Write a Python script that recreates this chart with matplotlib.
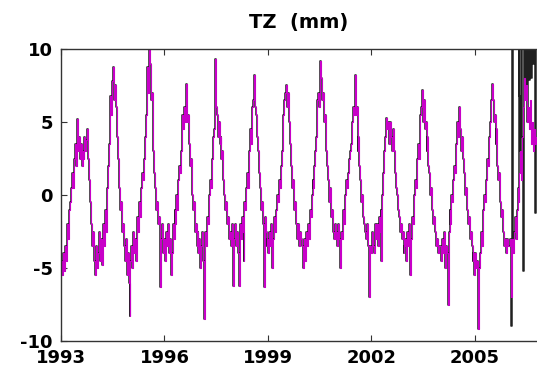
import numpy as np
import matplotlib
matplotlib.use('Agg')
import matplotlib.pyplot as plt

start_year = 1993
samples_per_year = 36

tz_1993 = [-1.8, -4.5, -5.5, -4.0, -5.2, -3.5, -4.5, -2.0, -3.0, -1.0, -0.5, 0.5,
           1.5, 0.5, 2.5, 3.5, 2.0, 5.2, 3.0, 4.0, 2.5, 3.5, 2.0, 3.0,
           2.5, 4.0, 3.0, 3.8, 4.5, 2.5, 1.0, -0.5, -2.0, -3.5, -2.5, -4.5]
tz_1994 = [-5.5, -3.5, -5.0, -4.0, -2.5, -4.5, -3.0, -4.8, -2.0, -3.5, -1.0, -2.5,
           -0.5, 0.5, 2.0, 3.5, 6.8, 5.5, 7.8, 8.8, 6.5, 7.5, 6.0, 4.0,
           2.5, 0.5, -1.0, -0.5, -2.5, -2.0, -3.5, -4.5, -3.0, -5.5, -4.0, -6.0]
tz_1995 = [-8.3, -4.5, -3.5, -5.0, -2.5, -4.0, -3.0, -4.5, -1.5, -2.5, -0.5, -1.5,
           0.5, 1.5, 1.0, 2.5, 4.0, 5.5, 8.8, 7.0, 10.0, 9.0, 6.5, 7.0,
           4.5, 3.0, 1.5, 0.5, -1.0, -0.5, -2.0, -1.5, -6.3, -3.0, -2.0, -4.0]
tz_1996 = [-3.0, -4.5, -2.5, -3.5, -2.0, -4.0, -3.0, -5.5, -4.0, -2.0, -3.0, -1.0,
           -2.0, 0.0, -1.0, 1.0, 2.0, 1.5, 3.0, 5.5, 4.5, 6.0, 5.0, 7.6,
           5.0, 5.5, 3.5, 2.0, 2.5, 0.0, -1.0, -0.5, -2.5, -2.0, -3.5, -2.5]
tz_1997 = [-4.0, -3.0, -5.0, -3.5, -2.5, -4.5, -8.5, -2.5, -3.5, -1.5, -2.0, 0.0,
           1.0, 0.5, 2.5, 4.0, 4.5, 9.3, 6.0, 5.5, 4.0, 5.0, 3.5, 4.0,
           2.5, 3.0, 1.0, 0.0, -1.0, -0.5, -2.0, -1.5, -3.0, -2.5, -3.5, -2.0]
tz_1998 = [-6.2, -3.0, -2.0, -3.5, -2.5, -4.0, -6.2, -2.0, -3.0, -1.5, -2.5, -4.5,
           -0.5, -1.0, 0.5, 1.5, 0.5, 3.0, 4.5, 3.5, 6.0, 6.5, 8.2, 6.0,
           5.5, 4.0, 3.0, 1.5, 0.5, -1.0, -0.5, -2.0, -6.3, -1.5, -2.5, -3.5]
tz_1999 = [-3.0, -4.0, -2.5, -3.5, -2.0, -5.0, -3.0, -1.5, -2.5, -1.0, 0.0, -0.5,
           1.0, 0.5, 2.0, 3.0, 5.5, 6.5, 7.0, 7.5, 6.0, 7.0, 5.0, 4.5,
           3.5, 2.0, 0.5, 1.0, -1.0, -0.5, -2.0, -3.0, -2.0, -3.5, -2.5, -3.0]
tz_2000 = [-3.5, -5.0, -3.0, -4.5, -2.5, -3.5, -2.0, -3.0, -1.0, -1.5, 0.0, 1.0,
           0.5, 2.0, 3.0, 4.0, 6.5, 7.0, 6.0, 9.2, 8.0, 6.5, 7.0, 5.0,
           5.5, 3.0, 2.0, 1.0, -0.5, 0.5, -1.5, -1.0, -2.5, -3.0, -2.0, -3.0]
tz_2001 = [-2.5, -3.5, -2.0, -3.0, -5.0, -2.5, -3.0, -1.0, -2.0, 0.0, 1.0, 0.5,
           1.5, 2.5, 3.0, 3.5, 5.0, 6.0, 5.5, 8.2, 5.5, 6.0, 3.0, 4.0,
           2.0, 1.0, -0.5, 0.0, -1.5, -2.0, -2.5, -3.0, -2.0, -3.5, -7.0, -3.5]
tz_2002 = [-4.0, -2.5, -3.5, -4.0, -2.0, -3.0, -2.0, -3.5, -1.5, -2.5, -1.0, -4.5,
           0.0, 1.5, 3.0, 4.0, 5.3, 4.5, 5.0, 3.5, 5.0, 4.0, 3.0, 4.5,
           3.0, 1.5, 0.5, 0.0, -1.0, -1.5, -2.5, -2.0, -3.0, -2.5, -4.0, -3.5]
tz_2003 = [-3.0, -4.5, -2.5, -3.5, -2.0, -5.5, -3.0, -1.5, -2.0, 0.0, 1.0, 0.5,
           2.5, 3.5, 2.5, 5.5, 6.0, 7.2, 5.0, 6.5, 4.5, 5.0, 3.0, 4.0,
           2.0, 1.5, 0.0, 0.5, -1.0, -2.0, -1.5, -2.5, -3.5, -3.0, -4.0, -3.5]
tz_2004 = [-3.5, -4.5, -3.0, -4.0, -2.5, -5.0, -3.5, -4.0, -7.5, -2.5, -1.0, -2.0,
           0.0, -0.5, 1.0, 2.0, 1.5, 3.5, 5.0, 4.0, 6.0, 4.5, 3.0, 4.0,
           2.5, 1.5, 0.0, 0.5, -1.0, -2.0, -1.5, -3.0, -2.5, -3.5, -4.5, -4.0]
tz_2005 = [-5.5, -4.0, -5.0, -4.5, -9.2, -5.0, -4.0, -2.5, -3.5, -1.0, 0.0, -0.5,
           1.0, 2.5, 2.0, 4.0, 5.0, 6.5, 7.6, 6.5, 5.0, 5.5, 3.5, 4.5,
           2.0, 1.0, 1.5, -0.5, -1.5, -1.0, -2.5, -3.5, -3.0, -4.0, -3.0, -3.5]
tz_2006_magenta = [-3.5, -3.0, -7.0, -3.0, -4.0, -2.5, -1.5, -3.0, -1.0, 0.5, -0.5, 1.5,
                   3.0, 1.0, 4.0, 6.0, 8.0, 6.5, 7.5, 5.0, 6.0, 4.5, 6.5, 3.5,
                   5.0, 3.0, 4.5, 3.5, 4.0]
tz_2006_black = [-3.5, -3.0, -9.0, 12.0, -4.0, -2.5, -1.5, -3.0, -1.0, 0.5, 12.0, 6.8,
                 3.0, 12.0, 4.0, -5.2, 12.0, 6.5, 12.0, 5.0, 12.0, 7.9, 12.0, 8.0,
                 12.0, 9.0, 12.0, -1.2, 12.0]

xtick_years = [1993, 1996, 1999, 2002, 2005]
ytick_values = [-10, -5, 0, 5, 10]
ytick_labels = ['-10', '-5', '0', '5', '10']

full_years = [tz_1993, tz_1994, tz_1995, tz_1996, tz_1997, tz_1998, tz_1999,
              tz_2000, tz_2001, tz_2002, tz_2003, tz_2004, tz_2005]
magenta = np.concatenate(full_years + [tz_2006_magenta])
black = np.concatenate(full_years + [tz_2006_black])
t = start_year + np.arange(len(magenta)) / samples_per_year

fig = plt.figure(figsize=(5.37, 3.72), dpi=100)
ax = fig.add_axes([61/537, 31/372, 476/537, 292/372])
ax.plot(t, black, color='#202020', lw=1.1, drawstyle='steps-mid')
ax.plot(t, magenta, color='#c800c8', lw=0.8, drawstyle='steps-mid')
ax.set_xlim(1993, 2006.8)
ax.set_ylim(-10, 10)
ax.set_xticks(xtick_years)
ax.set_xticklabels([str(y) for y in xtick_years])
ax.set_yticks(ytick_values)
ax.set_yticklabels(ytick_labels)
ax.tick_params(direction='in', length=4, top=True, right=False, labelsize=13, pad=6,
               color='#333333')
for lbl in ax.get_xticklabels() + ax.get_yticklabels():
    lbl.set_fontweight('bold')
for s in ['left', 'top', 'bottom']:
    ax.spines[s].set_color('#333333')
    ax.spines[s].set_linewidth(1.0)
ax.spines['right'].set_visible(False)
ax.set_title('TZ  (mm)', fontsize=14, fontweight='bold', pad=15)
fig.savefig('out.png', dpi=100)
